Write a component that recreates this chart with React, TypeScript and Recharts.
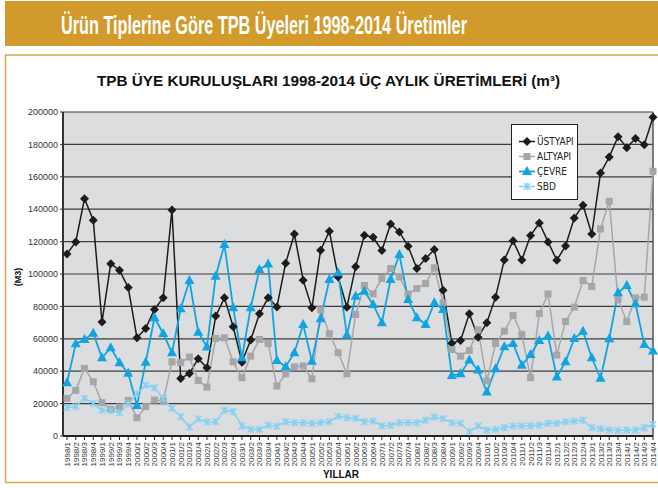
import { LineChart, Line, XAxis, YAxis, CartesianGrid, ReferenceLine } from "recharts";

const quarters = [
  "1998/1", "1998/2", "1998/3", "1998/4", "1999/1", "1999/2", "1999/3", "1999/4",
  "2000/1", "2000/2", "2000/3", "2000/4", "2001/1", "2001/2", "2001/3", "2001/4",
  "2002/1", "2002/2", "2002/3", "2002/4", "2003/1", "2003/2", "2003/3", "2003/4",
  "2004/1", "2004/2", "2004/3", "2004/4", "2005/1", "2005/2", "2005/3", "2005/4",
  "2006/1", "2006/2", "2006/3", "2006/4", "2007/1", "2007/2", "2007/3", "2007/4",
  "2008/1", "2008/2", "2008/3", "2008/4", "2009/1", "2009/2", "2009/3", "2009/4",
  "2010/1", "2010/2", "2010/3", "2010/4", "2011/1", "2011/2", "2011/3", "2011/4",
  "2012/1", "2012/2", "2012/3", "2012/4", "2013/1", "2013/2", "2013/3", "2013/4",
  "2014/1", "2014/2", "2014/3", "2014/4",
];

const ustyapi = [
  112400, 119800, 146500, 133200, 70300, 106400, 102300, 91600, 60600, 66400, 78100, 85300,
  139500, 35500, 38600, 47700, 42100, 74000, 85300, 67400, 45600, 59200, 75400, 85300,
  79700, 106700, 124700, 96200, 79100, 114700, 126400, 98200, 79500, 104400, 123900, 122700,
  114500, 130900, 126000, 117100, 103400, 109500, 115100, 90000, 57300, 59000, 75400, 61000,
  69900, 85700, 108700, 120600, 108700, 123700, 131500, 119800, 108500, 117300, 134600, 142400,
  124700, 162300, 172200, 184700, 178000, 183700, 179800, 196700,
];

const altyapi = [
  23200, 28200, 41700, 33500, 20600, 16400, 17900, 22000, 11300, 18100, 22200, 21600,
  45800, 45400, 48700, 34300, 30200, 60200, 60600, 45800, 36000, 49300, 59600, 57100,
  30800, 38400, 42700, 43200, 35300, 77900, 63100, 51400, 38400, 75000, 92900, 87700,
  97200, 103400, 98200, 87700, 91000, 94100, 103800, 82200, 53400, 49300, 52800, 65600,
  33900, 57100, 64700, 74400, 62700, 36000, 75600, 87700, 49900, 70700, 79500, 96000,
  92300, 127800, 144900, 84300, 70700, 85300, 85700, 163400,
];

const cevre = [
  32900, 56900, 59600, 63500, 48300, 54500, 45200, 38800, 18900, 45600, 73000, 63300,
  51400, 78500, 96000, 64100, 54900, 98600, 118200, 79100, 48300, 79100, 102800, 106200,
  46600, 42700, 51400, 68800, 46200, 72300, 96600, 100700, 62300, 86300, 89400, 81200,
  69900, 96600, 112000, 84300, 73000, 68800, 82200, 78100, 37400, 38400, 46900, 40700,
  27100, 41500, 55100, 57100, 43600, 50300, 59000, 61700, 36400, 45800, 60200, 64700,
  48300, 35600, 60000, 88400, 92900, 81600, 56500, 52400,
];

const sbd = [
  17500, 18300, 23200, 20100, 15800, 15800, 14400, 19900, 26100, 31400, 29800, 23200,
  17100, 11900, 5500, 10500, 8600, 8800, 15800, 15000, 6200, 4100, 4100, 6600,
  6000, 8800, 8200, 8200, 7800, 8200, 8800, 12100, 11300, 10900, 8800, 9200,
  6200, 6600, 8200, 8200, 8200, 9700, 11700, 10700, 8200, 7800, 2700, 6200,
  3700, 4100, 5100, 6200, 6200, 6200, 6600, 7800, 7800, 8800, 9200, 9700,
  5100, 4500, 3700, 3500, 3700, 3700, 5100, 7200,
];

const yTicks = [0, 20000, 40000, 60000, 80000, 100000, 120000, 140000, 160000, 180000, 200000];

const data = quarters.map((q, i) => ({
  q,
  ustyapi: ustyapi[i],
  altyapi: altyapi[i],
  cevre: cevre[i],
  sbd: sbd[i],
}));

const NARROW = "'Liberation Sans Narrow', 'Arial Narrow', 'DejaVu Sans Condensed', sans-serif";
const SANS = "'Liberation Sans', Arial, sans-serif";

type MarkProps = { cx: number; cy: number; color: string };

function Diamond({ cx, cy, color }: MarkProps) {
  const r = 4.5;
  return <polygon points={`${cx},${cy - r} ${cx + r},${cy} ${cx},${cy + r} ${cx - r},${cy}`} fill={color} />;
}

function Square({ cx, cy, color }: MarkProps) {
  return <rect x={cx - 3.5} y={cy - 3.5} width={7} height={7} fill={color} />;
}

function Triangle({ cx, cy, color }: MarkProps) {
  return <polygon points={`${cx},${cy - 5.5} ${cx + 5},${cy + 3.5} ${cx - 5},${cy + 3.5}`} fill={color} />;
}

function Star({ cx, cy, color }: MarkProps) {
  const r = 3.2;
  return (
    <g stroke={color} strokeWidth={1.4}>
      <line x1={cx - r} y1={cy - r} x2={cx + r} y2={cy + r} />
      <line x1={cx - r} y1={cy + r} x2={cx + r} y2={cy - r} />
      <line x1={cx} y1={cy - r - 0.5} x2={cx} y2={cy + r + 0.5} />
    </g>
  );
}

const SERIES = [
  { key: "ustyapi", name: "ÜSTYAPI", color: "#1c1c1c", width: 1.5, Mark: Diamond },
  { key: "altyapi", name: "ALTYAPI", color: "#a6a6a8", width: 1.5, Mark: Square },
  { key: "cevre", name: "ÇEVRE", color: "#10a4e2", width: 1.8, Mark: Triangle },
  { key: "sbd", name: "SBD", color: "#84d0f2", width: 1.5, Mark: Star },
];

function XTick({ x, y, payload }: any) {
  return (
    <text
      x={x}
      y={y}
      dy={3}
      transform={`rotate(-90 ${x} ${y})`}
      textAnchor="end"
      fontSize={8}
      fontFamily={SANS}
      fill="#333"
    >
      {payload.value}
    </text>
  );
}

export default function App() {
  return (
    <div style={{ position: "relative", width: 658, height: 488, overflow: "hidden", background: "#fff" }}>
      <style>{`body{margin:0}`}</style>

      {/* banner, frame and titles */}
      <svg width={658} height={488} style={{ position: "absolute", left: 0, top: 0 }}>
        <rect x={5} y={1} width={653} height={45} fill="#d29a2a" />
        <text
          x={0}
          y={0}
          transform="translate(61 34) scale(0.625 1)"
          fontSize={26}
          fontWeight="bold"
          fontFamily={SANS}
          fill="#fff"
        >
          Ürün Tiplerine Göre TPB Üyeleri 1998-2014 Üretimler
        </text>
        <line x1={5} y1={55} x2={658} y2={55} stroke="#d6a74c" strokeWidth={1.5} />
        <line x1={5.5} y1={55} x2={5.5} y2={482} stroke="#d6a74c" strokeWidth={1.5} />
        <line x1={5} y1={482.5} x2={658} y2={482.5} stroke="#d6a74c" strokeWidth={1.5} />
        <text
          x={97}
          y={86}
          textLength={463}
          lengthAdjust="spacingAndGlyphs"
          fontSize={15}
          fontWeight="bold"
          fontFamily={SANS}
          fill="#111"
        >
          TPB ÜYE KURULUŞLARI 1998-2014 ÜÇ AYLIK ÜRETİMLERİ (m³)
        </text>
        <text
          x={21}
          y={277}
          transform="rotate(-90 21 277)"
          textAnchor="middle"
          fontSize={9}
          fontWeight="bold"
          fontFamily={SANS}
          fill="#111"
        >
          (M3)
        </text>
        <text x={341} y={478} textAnchor="middle" fontSize={10} fontWeight="bold" fontFamily={SANS} fill="#111">
          YILLAR
        </text>
      </svg>

      <div style={{ position: "absolute", left: 0, top: 0 }}>
        <LineChart width={658} height={488} data={data} margin={{ top: 112, right: 5, bottom: 7, left: 8 }}>
          <CartesianGrid vertical={false} fill="#dcdddf" stroke="#3c3c3c" strokeWidth={1.2} />
          <XAxis
            dataKey="q"
            scale="point"
            padding={{ left: 4, right: 0 }}
            interval={0}
            height={45}
            tickSize={4}
            tickMargin={2}
            tick={<XTick />}
            axisLine={{ stroke: "#222", strokeWidth: 2 }}
            tickLine={{ stroke: "#222" }}
          />
          <YAxis
            domain={[0, 200000]}
            ticks={yTicks}
            width={55}
            tickSize={3}
            tickMargin={2}
            tick={{ fontSize: 9, fill: "#333", fontFamily: SANS }}
            axisLine={{ stroke: "#333", strokeWidth: 2 }}
            tickLine={{ stroke: "#333" }}
          />
          <ReferenceLine x={quarters[quarters.length - 1]} stroke="#555" strokeWidth={1.5} />
          {SERIES.map((s) => (
            <Line
              key={s.key}
              type="linear"
              dataKey={s.key}
              name={s.name}
              stroke={s.color}
              strokeWidth={s.width}
              isAnimationActive={false}
              activeDot={false}
              dot={(p: any) => <s.Mark key={`${s.key}-${p.index}`} cx={p.cx} cy={p.cy} color={s.color} />}
            />
          ))}
        </LineChart>
      </div>

      {/* legend */}
      <svg width={658} height={488} style={{ position: "absolute", left: 0, top: 0, pointerEvents: "none" }}>
        <rect x={511.5} y={124.5} width={66} height={75} fill="#fff" stroke="#222" strokeWidth={1} />
        {SERIES.map((s, i) => {
          const y = 141.5 + i * 15;
          return (
            <g key={s.key}>
              <line x1={519} y1={y} x2={535} y2={y} stroke={s.color} strokeWidth={s.width} />
              <s.Mark cx={527} cy={y} color={s.color} />
              <text x={537} y={y + 3.5} fontSize={10} fontFamily={NARROW} fill="#222">
                {s.name}
              </text>
            </g>
          );
        })}
      </svg>
    </div>
  );
}
